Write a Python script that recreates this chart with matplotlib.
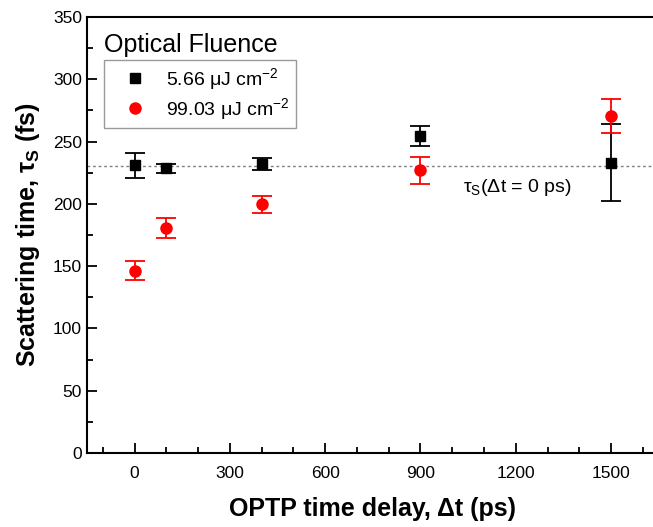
import matplotlib
matplotlib.use('Agg')
import matplotlib.pyplot as plt
from matplotlib.ticker import MultipleLocator
from matplotlib.lines import Line2D

plt.rcParams['font.family'] = ['Liberation Sans', 'DejaVu Sans']
plt.rcParams['mathtext.fontset'] = 'custom'
plt.rcParams['mathtext.rm'] = 'Liberation Sans'
plt.rcParams['mathtext.bf'] = 'Liberation Sans:bold'
plt.rcParams['mathtext.default'] = 'regular'

# delay times (ps)
delay = [0, 100, 400, 900, 1500]

# 5.66 uJ cm-2
tau_low = [231, 228.5, 232, 254.5, 233]
err_low = [10, 3.5, 4.6, 7.7, 31]

# 99.03 uJ cm-2
tau_high = [146.5, 181, 199.5, 227, 270.5]
err_high = [8, 8, 7, 11, 13.5]

tau_ref = 230.6

fig = plt.figure(figsize=(6.53, 5.27), dpi=100)
ax = fig.add_axes([0.1332, 0.1404, 0.8755, 0.8273])

ax.axhline(tau_ref, color='gray', lw=1, linestyle=(0, (2, 2)), zorder=1)

ax.errorbar(delay, tau_low, yerr=err_low, fmt='s', color='black',
            markersize=7, capsize=7, elinewidth=1.3, capthick=1.3, zorder=3)
ax.errorbar(delay, tau_high, yerr=err_high, fmt='o', color='red',
            markersize=8, capsize=7, elinewidth=1.3, capthick=1.3, zorder=4)

ax.set_xlim(-150, 1650)
ax.set_ylim(0, 350)
ax.xaxis.set_major_locator(MultipleLocator(300))
ax.xaxis.set_minor_locator(MultipleLocator(100))
ax.yaxis.set_major_locator(MultipleLocator(50))
ax.yaxis.set_minor_locator(MultipleLocator(25))
ax.tick_params(which='both', direction='in', labelsize=12.5, width=1.3)
ax.tick_params(which='major', length=7)
ax.tick_params(which='minor', length=4)
ax.tick_params(axis='x', pad=9)
for s in ax.spines.values():
    s.set_linewidth(1.5)

ax.set_xlabel('OPTP time delay, Δt (ps)', fontsize=18, fontweight='bold', labelpad=12)
ax.set_ylabel('Scattering time, τ$_S$ (fs)', fontsize=18, fontweight='bold', labelpad=8)

ax.text(1035, 213.5, 'τ$_S$(Δt = 0 ps)', fontsize=14, va='center', ha='left')

ax.text(0.0297, 0.920, 'Optical Fluence', transform=ax.transAxes, fontsize=18,
        va='baseline', ha='left')

# legend shows markers only
handles = [Line2D([], [], ls='none', marker='s', color='black', markersize=7),
           Line2D([], [], ls='none', marker='o', color='red', markersize=8)]
labels = ['5.66 μJ cm$^{-2}$', '99.03 μJ cm$^{-2}$']
leg = ax.legend(handles, labels, loc='upper left', bbox_to_anchor=(0.0297, 0.901),
                borderaxespad=0, fontsize=14, frameon=True, fancybox=False,
                edgecolor='gray', handlelength=2.6, handletextpad=0.3,
                borderpad=0.3, labelspacing=0.2)
leg.get_frame().set_linewidth(1)

fig.savefig('out.png', dpi=100)
